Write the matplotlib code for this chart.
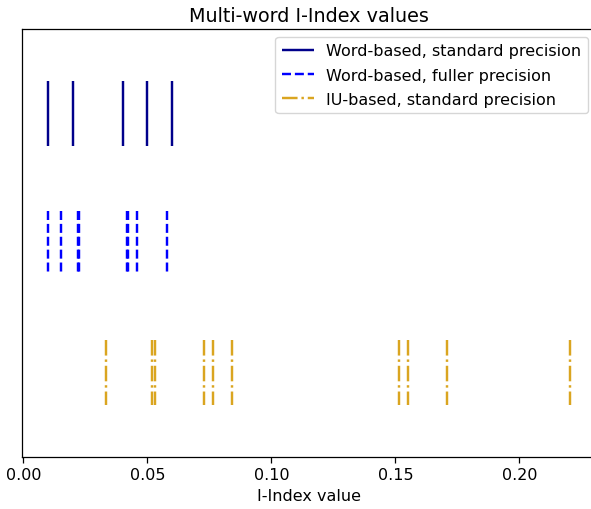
import matplotlib
matplotlib.use("Agg")
import matplotlib.pyplot as plt

labels = ["Word-based, standard precision", "Word-based, fuller precision", "IU-based, standard precision"]
word_std = [0.010, 0.020, 0.040, 0.050, 0.060]
word_full = [0.0100, 0.0152, 0.0222, 0.0225, 0.0417, 0.0422, 0.0459, 0.0580]
iu_std = [0.0333, 0.0519, 0.0532, 0.0728, 0.0766, 0.0841, 0.1516, 0.1550, 0.1708, 0.2204]
colors = ["darkblue", "blue", "goldenrod"]
styles = ["solid", "dashed", "dashdot"]
offsets = [2, 1, 0]

fig = plt.figure(figsize=(5.91, 5.10), dpi=100)
ax = fig.add_axes([0.0374, 0.102, 0.971, 0.839])
for data, lab, c, ls, off in zip([word_std, word_full, iu_std], labels, colors, styles, offsets):
    ax.eventplot(data, lineoffsets=off, linelengths=0.5, colors=c, linestyles=ls,
                 linewidths=1.75, label=lab)
ax.set_ylim(-0.65, 2.65)
ax.set_yticks([])
ax.set_title("Multi-word I-Index values", fontsize=13.8, pad=6)
ax.set_xlabel("I-Index value", fontsize=11.5, labelpad=4)
ax.tick_params(axis="x", labelsize=11.5, length=4, width=0.9)
for s in ax.spines.values():
    s.set_linewidth(0.9)
ax.legend(loc="upper right", fontsize=11.5, labelspacing=0.58)
fig.savefig("out.png", dpi=100)
